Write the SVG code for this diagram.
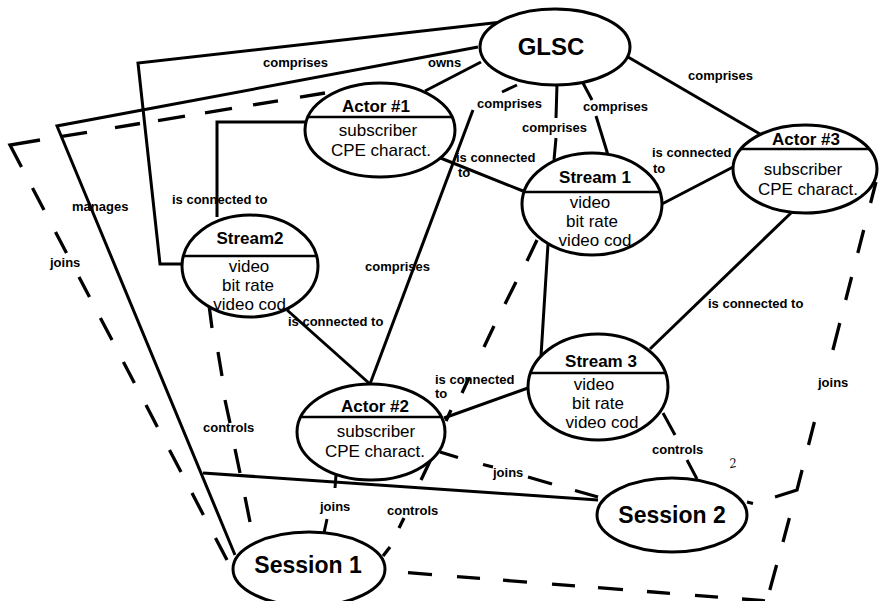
<svg xmlns="http://www.w3.org/2000/svg" width="879" height="601" viewBox="0 0 879 601">
  <style>
    .bg { fill: #ffffff; }
    .ln { fill: none; stroke: #000; stroke-width: 3; stroke-linecap: butt; stroke-linejoin: miter; }
    .ds { fill: none; stroke: #000; stroke-width: 3.3; stroke-linecap: butt; stroke-linejoin: miter; }
    .node ellipse { fill: #ffffff; stroke: #000; stroke-width: 3; }
    .node line { stroke: #000; stroke-width: 2.6; }
    text { font-family: "Liberation Sans", Arial, Helvetica, sans-serif; fill: #000; }
    .lbl { font-size: 13px; font-weight: bold; }
    .ttl { font-size: 17px; font-weight: bold; text-anchor: middle; }
    .bdy { font-size: 17px; text-anchor: middle; }
    .big { font-size: 24px; font-weight: bold; text-anchor: middle; }
    .ses { font-size: 23px; font-weight: bold; text-anchor: middle; }
    .mark { font-family: "Liberation Serif", "Times New Roman", serif; font-style: italic; font-size: 14px; }
  </style>

  <rect class="bg" x="0" y="0" width="879" height="601"/>

  <g id="connectors">
    <!-- solid connectors -->
    <path class="ln" d="M502,22 L138,63 L160,264 L183,264"/>
    <path class="ln" d="M478,47 L57,126 L235,555"/>
    <path class="ln" d="M203,473 L598,500"/>
    <path class="ln" d="M425,91 L481,62"/>
    <path class="ln" d="M306,122 L217,122 L217,217"/>
    <path class="ln" d="M438,157 L523,191"/>
    <path class="ln" d="M517,85 L502,92"/>
    <path class="ln" d="M473,110 L370,384"/>
    <path class="ln" d="M557,84 L556,118 M556,138 L554,160"/>
    <path class="ln" d="M583,83 L592,100 M596,116 L608,155"/>
    <path class="ln" d="M628,57 L760,134"/>
    <path class="ln" d="M660,205 L735,166"/>
    <path class="ln" d="M792,212 L650,349"/>
    <path class="ln" d="M548,244 L541,356"/>
    <path class="ln" d="M444,418 L528,388"/>
    <path class="ln" d="M287,310 L370,384"/>
    <path class="ln" d="M336,475 L335,488 M327,519 L324,533"/>
    <path class="ln" d="M663,413 L675,435 M687,460 L697,479"/>

    <!-- dashed: joins (Actor #1 to Session 1) -->
    <path class="ds" d="M325,93 L300,97.1 M278,100.8 L253,104.9 M232,108.3 L205,112.8 M185,116.1 L158,120.6 M140,123.5 L115,127.7 M87,132.3 L62,136.4 M40,140 L10,145 L21.5,167 M32.5,188 L44,210 M55.5,232 L66.5,253 M79,277 L89.5,297 M100.4,318 L112,340 M123.4,362 L134.4,383 M146,405 L157.4,427 M169.5,450 L181,472 M192,493 L203.4,515 M215.5,538 L227,560"/>
    <!-- dashed: joins (Actor #3 to Session 1 and Session 2) -->
    <path class="ds" d="M876,182 L870.6,203 M863.7,230 L857.8,253 M851.6,277 L845.7,300 M839.8,323 L832.9,350 M814.4,422 L808.5,445 M802.1,470 L797,490 L775,497 M789.4,518 L783,542 M776.6,565 L769.8,590 M765,600.8 L742,599 M718,597.1 L695,595.3 M670,593.4 L647,591.5 M623,589.7 L598,587.7 M575,585.9 L552,584.1 M527,582.1 L503,580.2 M480,578.4 L457,576.6 M432,574.6 L408,572.7 M747,502 L753,503.5"/>
    <!-- dashed: joins (Actor #2 to Session 2) -->
    <path class="ds" d="M440,452 L458,457.5 M483,464.5 L493,467 M528,477 L552,484 M575,490.5 L598,497"/>
    <!-- dashed: controls (Stream 1 to Session 1) -->
    <path class="ds" d="M537,240 L527,261 M516,282 L505,304 M494,326 L484,347 M469,378 L462,393 M451,410 L446,421 M432,457 L421,480 M404,518 L399,528 M390,547 L383,556"/>
    <!-- dashed: controls (Stream2 to Session 1) -->
    <path class="ds" d="M209,305 L212,328 M218,352 L222,376 M225,400 L230,423 M235,449 L240,473 M245,497 L250,522"/>

    <!-- connector labels -->
    <text class="lbl" x="263" y="67">comprises</text>
    <text class="lbl" x="428" y="67">owns</text>
    <text class="lbl" x="477" y="108">comprises</text>
    <text class="lbl" x="522" y="132">comprises</text>
    <text class="lbl" x="583" y="111">comprises</text>
    <text class="lbl" x="688" y="80">comprises</text>
    <text class="lbl" x="456" y="162">is connected</text>
    <text class="lbl" x="458" y="177">to</text>
    <text class="lbl" x="652" y="157">is connected</text>
    <text class="lbl" x="653" y="173">to</text>
    <text class="lbl" x="172" y="204">is connected to</text>
    <text class="lbl" x="72" y="211">manages</text>
    <text class="lbl" x="50" y="267">joins</text>
    <text class="lbl" x="365" y="271">comprises</text>
    <text class="lbl" x="288" y="326">is connected to</text>
    <text class="lbl" x="708" y="308">is connected to</text>
    <text class="lbl" x="435" y="384">is connected</text>
    <text class="lbl" x="435" y="398">to</text>
    <text class="lbl" x="818" y="387">joins</text>
    <text class="lbl" x="203" y="432">controls</text>
    <text class="lbl" x="652" y="454">controls</text>
    <text class="lbl" x="493" y="477">joins</text>
    <text class="lbl" x="320" y="511">joins</text>
    <text class="lbl" x="387" y="515">controls</text>
    <text class="mark" x="729" y="467" transform="rotate(-12 735 462)">2</text>
  </g>

  <g id="glsc" class="node">
    <ellipse cx="555" cy="47" rx="75" ry="38"/>
    <text class="big" x="551" y="55">GLSC</text>
  </g>

  <g id="actor1" class="node">
    <ellipse cx="380" cy="130" rx="75" ry="47"/>
    <line x1="308" y1="117" x2="452" y2="117"/>
    <text class="ttl" x="376" y="112">Actor #1</text>
    <text class="bdy" x="378" y="136">subscriber</text>
    <text class="bdy" x="381" y="156">CPE charact.</text>
  </g>

  <g id="actor2" class="node">
    <ellipse cx="371" cy="432" rx="74" ry="48"/>
    <line x1="301" y1="417" x2="441" y2="417"/>
    <text class="ttl" x="375" y="412">Actor #2</text>
    <text class="bdy" x="376" y="437">subscriber</text>
    <text class="bdy" x="375" y="457">CPE charact.</text>
  </g>

  <g id="actor3" class="node">
    <ellipse cx="805" cy="169" rx="72" ry="44"/>
    <line x1="741" y1="149" x2="869" y2="149"/>
    <text class="ttl" x="806" y="145">Actor #3</text>
    <text class="bdy" x="803" y="175">subscriber</text>
    <text class="bdy" x="808" y="195">CPE charact.</text>
  </g>

  <g id="stream1" class="node">
    <ellipse cx="592" cy="204" rx="70" ry="51"/>
    <line x1="524" y1="192" x2="660" y2="192"/>
    <text class="ttl" x="595" y="183">Stream 1</text>
    <text class="bdy" x="590" y="208">video</text>
    <text class="bdy" x="592" y="227">bit rate</text>
    <text class="bdy" x="595" y="246">video cod</text>
  </g>

  <g id="stream2" class="node">
    <ellipse cx="250" cy="266" rx="68" ry="51"/>
    <line x1="183" y1="256" x2="317" y2="256"/>
    <text class="ttl" x="250" y="244">Stream2</text>
    <text class="bdy" x="249" y="272">video</text>
    <text class="bdy" x="248" y="291">bit rate</text>
    <text class="bdy" x="252" y="310">video cod.</text>
  </g>

  <g id="stream3" class="node">
    <ellipse cx="598" cy="387" rx="70" ry="53"/>
    <line x1="530" y1="373" x2="666" y2="373"/>
    <text class="ttl" x="601" y="367">Stream 3</text>
    <text class="bdy" x="594" y="390">video</text>
    <text class="bdy" x="598" y="409">bit rate</text>
    <text class="bdy" x="602" y="428">video cod</text>
  </g>

  <g id="session1" class="node">
    <ellipse cx="309" cy="569" rx="76" ry="37"/>
    <text class="ses" x="308" y="573">Session 1</text>
  </g>

  <g id="session2" class="node">
    <ellipse cx="672" cy="515" rx="75" ry="37"/>
    <text class="ses" x="672" y="523">Session 2</text>
  </g>
</svg>
